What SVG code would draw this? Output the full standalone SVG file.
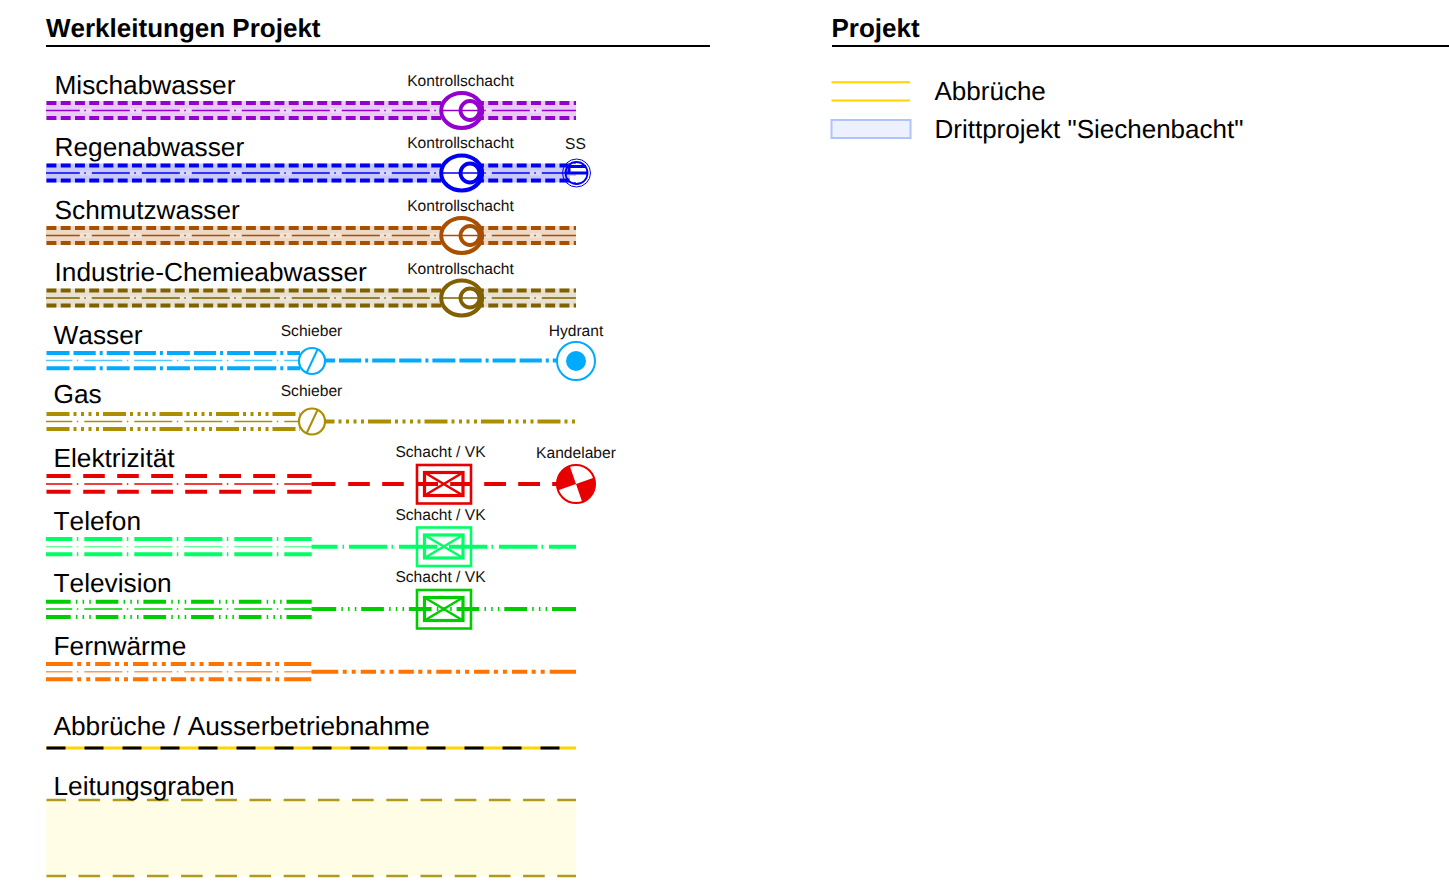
<svg xmlns="http://www.w3.org/2000/svg" width="1449" height="884" viewBox="0 0 1449 884">
<style>
text{font-family:"Liberation Sans",Arial,sans-serif;fill:#000;text-rendering:geometricPrecision;font-kerning:none}
.h{font-size:26px;font-weight:bold}
.l{font-size:26.25px}
.lg{font-size:26px}
.s{font-size:15.6px;text-anchor:middle;fill:#111}
line,path,circle,ellipse,rect{fill:none}
.o{stroke-width:4;stroke-dasharray:9.9 4.35}
.c{stroke-width:1.4;stroke-dasharray:38 4.5 1.5 6}
.m{stroke-dasharray:38 4.5 1.5 6;stroke-dashoffset:4.2}
.t{stroke-dasharray:38 4.5 1.5 6;stroke-dashoffset:11.7}
.halo{stroke:#fff;stroke-opacity:.25;stroke-width:5;stroke-dasharray:11.5 38.5}
.band{stroke-width:19}
.w{stroke-dasharray:23 4 22.2 4 3 4}
.g{stroke-dasharray:23 4 3 4.5 3 4.5 3 4.5 3 4}
.e{stroke-dasharray:24 12.7 21.6 12.4 21.6 12.4 21.8 12.2 21.8 12.2 21.8 12.2 21.8 12.2 24.4}
.tv{stroke-dasharray:24.7 5.2 1.5 5.2 1.5 5.2 1.5 4.9 22.7 5.2 1.5 5.2 1.5 5.2 1.5 4.9 22.7 5.2 1.5 5.2 1.5 5.2 1.5 4.9 22.7 5.2 1.5 5.2 1.5 5.2 1.5 4.9 22.7 5.2 1.5 5.2 1.5 5.2 1.5 4.9 26}
.f{stroke-dasharray:26.7 4.5 4 5 4 5 15.3 4.5 4 5 4 5 15.3 4.5 4 5 4 5 15.3 4.5 4 5 4 5 15.3 4.5 4 5 4 5 15.3 4.5 4 5 4 5 27}
.th{stroke-width:4}
.cl{stroke-width:1.6}
.el{fill:#fff;stroke-width:4}
.ci{stroke-width:3.8}
.sc{fill:#fff;stroke-width:2.2}
.bo{stroke-width:2.6}
.bi{stroke-width:3.2}
.bx{stroke-width:2.6}
</style>
<g id="headers">
<text class="h" x="46" y="37">Werkleitungen Projekt</text>
<line x1="46" y1="46" x2="710" y2="46" stroke="#000" stroke-width="2"/>
<text class="h" x="831.5" y="37">Projekt</text>
<line x1="832" y1="46" x2="1449" y2="46" stroke="#000" stroke-width="2"/>
</g>
<g id="connectors">
<g stroke="#9400CC">
<line class="band" x1="46" y1="110.5" x2="576" y2="110.5" stroke="#E8CBF5"/>
<line class="halo" x1="80" y1="110.5" x2="576" y2="110.5"/>
<line class="o" x1="46.5" y1="103" x2="576" y2="103"/>
<line class="o" x1="46.5" y1="118" x2="576" y2="118"/>
<line class="c m" x1="46" y1="110.5" x2="576" y2="110.5"/>
</g>
<g stroke="#0000F0">
<line class="band" x1="46" y1="173" x2="576" y2="173" stroke="#C8C8FB"/>
<line class="halo" x1="80" y1="173" x2="576" y2="173"/>
<line class="o" x1="46.5" y1="165.5" x2="576" y2="165.5"/>
<line class="o" x1="46.5" y1="180.5" x2="576" y2="180.5"/>
<line class="c m" x1="46" y1="173" x2="576" y2="173"/>
</g>
<g stroke="#A85000">
<line class="band" x1="46" y1="235.5" x2="576" y2="235.5" stroke="#EDD9C6"/>
<line class="halo" x1="80" y1="235.5" x2="576" y2="235.5"/>
<line class="o" x1="46.5" y1="228" x2="576" y2="228"/>
<line class="o" x1="46.5" y1="243" x2="576" y2="243"/>
<line class="c m" x1="46" y1="235.5" x2="576" y2="235.5"/>
</g>
<g stroke="#806000">
<line class="band" x1="46" y1="298" x2="576" y2="298" stroke="#E8E0D0"/>
<line class="halo" x1="80" y1="298" x2="576" y2="298"/>
<line class="o" x1="46.5" y1="290.5" x2="576" y2="290.5"/>
<line class="o" x1="46.5" y1="305.5" x2="576" y2="305.5"/>
<line class="c m" x1="46" y1="298" x2="576" y2="298"/>
</g>
<g stroke="#00AAFF">
<line class="th w" x1="46.5" y1="353" x2="300" y2="353"/>
<line class="th w" x1="46.5" y1="368.3" x2="300" y2="368.3"/>
<line class="cl t" x1="46" y1="360.5" x2="300" y2="360.5" stroke="#55C8FF"/>
<line class="th w" x1="312" y1="360.5" x2="560" y2="360.5"/>
</g>
<g stroke="#AC8E00">
<line class="th g" x1="46.5" y1="414" x2="300" y2="414"/>
<line class="th g" x1="46.5" y1="429" x2="300" y2="429"/>
<line class="cl t" x1="46" y1="421.5" x2="300" y2="421.5"/>
<line class="th g" x1="311.5" y1="421.5" x2="576" y2="421.5"/>
</g>
<g stroke="#E60000">
<line class="th e" x1="46.5" y1="476" x2="311.7" y2="476"/>
<line class="th e" x1="46.5" y1="491.7" x2="311.7" y2="491.7"/>
<line class="cl t" x1="46" y1="484" x2="311.7" y2="484"/>
<line class="th e" x1="311.5" y1="484" x2="576" y2="484"/>
</g>
<g stroke="#00FF66">
<line class="th t" x1="46" y1="539" x2="311.7" y2="539"/>
<line class="th t" x1="46" y1="554.3" x2="311.7" y2="554.3"/>
<line class="cl t" x1="46" y1="546.8" x2="311.7" y2="546.8" stroke="#66FF99"/>
<line class="th" x1="311.5" y1="546.8" x2="576" y2="546.8" style="stroke-dasharray:26 5 1.5 5 38 4.5 1.5 6 38 4.5 1.5 6 38 4.5 1.5 6 38 4.5 1.5 6 38"/>
</g>
<g stroke="#00CC00">
<line class="th tv" x1="46" y1="601.7" x2="311.7" y2="601.7"/>
<line class="th tv" x1="46" y1="617" x2="311.7" y2="617"/>
<line class="cl t" x1="46" y1="609" x2="311.7" y2="609"/>
<line class="th tv" x1="311.5" y1="609" x2="576" y2="609"/>
</g>
<g stroke="#FF7300">
<line class="th f" x1="46" y1="664" x2="311.7" y2="664"/>
<line class="th f" x1="46" y1="679.3" x2="311.7" y2="679.3"/>
<line class="cl t" x1="46" y1="671.7" x2="311.7" y2="671.7" stroke="#FF9C50"/>
<line class="th f" x1="311.5" y1="671.7" x2="576" y2="671.7"/>
</g>
<line x1="46" y1="748" x2="576" y2="748" stroke="#FFD400" stroke-width="3"/>
<line x1="46.5" y1="748" x2="576" y2="748" stroke="#000" stroke-width="3" stroke-dasharray="19 19"/>
</g>
<g id="trench">
<rect x="46" y="800" width="530" height="76" style="fill:#FFFDE6"/>
<line x1="46.5" y1="800" x2="576" y2="800" stroke="#B09A1E" stroke-width="2.4" stroke-dasharray="19.5 12.5 21.6 12.6 21.6 12.6 21.6 12.6 21.6 12.6 21.6 12.6 21.6 12.6 21.6 12.6 21.6 12.6 21.6 12.6 21.6 12.6 21.6 12.6 21.6 12.6 21.6 12.6 21.6 12.6 21.6 12.6"/>
<line x1="46.5" y1="876" x2="576" y2="876" stroke="#B09A1E" stroke-width="2.4" stroke-dasharray="19.5 12.5 21.6 12.6 21.6 12.6 21.6 12.6 21.6 12.6 21.6 12.6 21.6 12.6 21.6 12.6 21.6 12.6 21.6 12.6 21.6 12.6 21.6 12.6 21.6 12.6 21.6 12.6 21.6 12.6 21.6 12.6"/>
</g>
<g id="ks-misch" stroke="#9400CC"><ellipse class="el" cx="461.7" cy="110.5" rx="20.5" ry="17.5"/><circle class="ci" cx="470" cy="110.5" r="9.5"/><line class="cl" x1="443" y1="110.5" x2="481" y2="110.5"/></g>
<g id="ks-regen" stroke="#0000F0"><ellipse class="el" cx="461.7" cy="173" rx="20.5" ry="17.5"/><circle class="ci" cx="470" cy="173" r="9.5"/><line class="cl" x1="443" y1="173" x2="481" y2="173"/></g>
<g id="ks-schmutz" stroke="#A85000"><ellipse class="el" cx="461.7" cy="235.5" rx="20.5" ry="17.5"/><circle class="ci" cx="470" cy="235.5" r="9.5"/><line class="cl" x1="443" y1="235.5" x2="481" y2="235.5"/></g>
<g id="ks-industrie" stroke="#806000"><ellipse class="el" cx="461.7" cy="298" rx="20.5" ry="17.5"/><circle class="ci" cx="470" cy="298" r="9.5"/><line class="cl" x1="443" y1="298" x2="481" y2="298"/></g>
<g id="ss" stroke="#0000F0">
<path d="M568 164H587V172H568Z" style="fill:#fff" stroke="none"/>
<path d="M568 166.5H586M565 173H587.5M569 166.5V173" stroke-width="3"/>
<path d="M570 176H587V182H570Z" style="fill:#fff" stroke="none"/>
<circle cx="576.5" cy="173" r="11" stroke-width="1.8"/>
<circle cx="576.5" cy="173" r="14" stroke-width="1"/>
</g>
<g id="schieber-wasser" stroke="#00AAFF"><circle class="sc" cx="312" cy="361" r="13"/><line x1="306.5" y1="373" x2="317.5" y2="349.5" stroke-width="2"/></g>
<g id="hydrant"><circle cx="576" cy="361" r="19" style="fill:#fff" stroke="#00AAFF" stroke-width="2"/><circle cx="576" cy="361" r="10" style="fill:#00AAFF"/></g>
<g id="schieber-gas" stroke="#AC8E00"><circle class="sc" cx="312" cy="421.5" r="13"/><line x1="306.5" y1="433.5" x2="317.5" y2="410" stroke-width="2"/></g>
<g id="box-elektro" stroke="#E60000"><rect class="bo" x="417" y="465" width="54" height="38.5"/><rect class="bi" x="424.5" y="472.5" width="38.5" height="23"/><path class="bx" d="M424.5 472.5L463 495.5M424.5 495.5L463 472.5"/></g>
<g id="kandelaber"><circle cx="576" cy="484" r="19" style="fill:#fff" stroke="#E60000" stroke-width="2"/><path d="M576 484L557.6 490.4A19.5 19.5 0 0 1 569.6 465.6ZM576 484L594.4 477.6A19.5 19.5 0 0 1 582.4 502.4Z" style="fill:#E60000"/></g>
<g id="box-telefon" stroke="#00FF66"><rect class="bo" x="417" y="527.5" width="54" height="38.5"/><rect class="bi" x="424.5" y="535" width="38.5" height="23"/><path class="bx" d="M424.5 535L463 558M424.5 558L463 535"/></g>
<g id="box-tv" stroke="#00CC00"><rect class="bo" x="417" y="590" width="54" height="38.5"/><rect class="bi" x="424.5" y="597.5" width="38.5" height="23"/><path class="bx" d="M424.5 597.5L463 620.5M424.5 620.5L463 597.5"/></g>
<g id="labels">
<text class="l" x="54.5" y="94">Mischabwasser</text>
<text class="l" x="54.5" y="156">Regenabwasser</text>
<text class="l" x="54.5" y="219">Schmutzwasser</text>
<text class="l" x="54.5" y="281">Industrie-Chemieabwasser</text>
<text class="l" x="53.5" y="344">Wasser</text>
<text class="l" x="53.5" y="403">Gas</text>
<text class="l" x="53.5" y="467">Elektrizität</text>
<text class="l" x="53.5" y="530">Telefon</text>
<text class="l" x="53.5" y="592">Television</text>
<text class="l" x="53.5" y="655">Fernwärme</text>
<text class="l" x="53.5" y="735">Abbrüche / Ausserbetriebnahme</text>
<text class="l" x="53.5" y="795">Leitungsgraben</text>
<text class="s" x="460.5" y="86">Kontrollschacht</text>
<text class="s" x="460.5" y="148">Kontrollschacht</text>
<text class="s" x="460.5" y="211">Kontrollschacht</text>
<text class="s" x="460.5" y="274">Kontrollschacht</text>
<text class="s" x="575.5" y="149">SS</text>
<text class="s" x="311.5" y="336">Schieber</text>
<text class="s" x="576" y="336">Hydrant</text>
<text class="s" x="311.5" y="396">Schieber</text>
<text class="s" x="440.5" y="457">Schacht / VK</text>
<text class="s" x="576" y="458">Kandelaber</text>
<text class="s" x="440.5" y="520">Schacht / VK</text>
<text class="s" x="440.5" y="582">Schacht / VK</text>
</g>
<g id="legend-abbrueche">
<line x1="831.5" y1="82.3" x2="910" y2="82.3" stroke="#FFD400" stroke-width="2"/>
<line x1="831.5" y1="100.5" x2="910" y2="100.5" stroke="#FFD400" stroke-width="2"/>
<text class="lg" x="934.5" y="100">Abbrüche</text>
</g>
<g id="legend-drittprojekt">
<rect x="831.5" y="120" width="79" height="18" style="fill:#EDF1FD" stroke="#AFC4FF" stroke-width="2"/>
<text class="lg" x="934.5" y="138">Drittprojekt "Siechenbacht"</text>
</g>
</svg>
